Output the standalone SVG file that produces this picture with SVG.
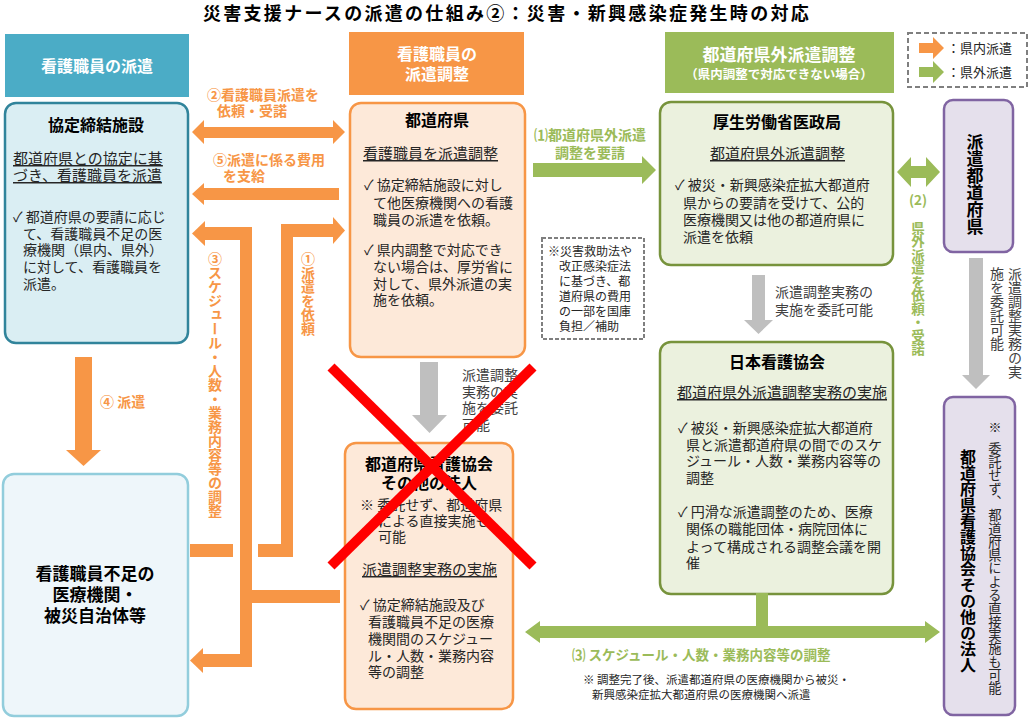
<svg xmlns="http://www.w3.org/2000/svg" width="1029" height="718" viewBox="0 0 1029 718">
<style>
text{font-family:"Noto Sans CJK JP","Noto Sans CJK SC",sans-serif;fill:#262626}
.b{font-weight:bold}
.t14{font-size:14px}
.t16{font-size:16px;font-weight:bold;fill:#000}
.hw{fill:#fff;font-weight:bold}
.ul{text-decoration:underline;font-size:15px}
.or{fill:#F79646;font-weight:bold}
.gr{fill:#9BBB59;font-weight:bold}
.gy{fill:#404040}
.v{writing-mode:vertical-rl}
.mid{text-anchor:middle}
</style>
<text x="507" y="20" class="mid b" style="font-size:18px;letter-spacing:2.3px;fill:#000">災害支援ナースの派遣の仕組み②：災害・新興感染症発生時の対応</text>

<!-- headers -->
<g id="hdr-left"><rect x="5" y="34" width="184" height="63" fill="#4BACC6"/><text x="97" y="72" class="mid hw" style="font-size:16px">看護職員の派遣</text></g>
<g id="hdr-mid"><rect x="349" y="32" width="175" height="63" fill="#F79646"/><text x="437" y="60" class="mid hw" style="font-size:16px">看護職員の</text><text x="437" y="80" class="mid hw" style="font-size:16px">派遣調整</text></g>
<g id="hdr-right"><rect x="665" y="32" width="229" height="61" fill="#9BBB59"/><text x="779" y="61" class="mid hw" style="font-size:17px">都道府県外派遣調整</text><text x="779" y="79" class="mid hw" style="font-size:12.5px">（県内調整で対応できない場合）</text></g>

<!-- legend -->
<g id="legend">
<rect x="908" y="33" width="119" height="54" fill="none" stroke="#7F7F7F" stroke-width="2" stroke-dasharray="5,3"/>
<polygon points="919,43 933,43 933,37 944,48 933,59 933,53 919,53" fill="#F79646"/>
<polygon points="919,67 933,67 933,61 944,72 933,83 933,77 919,77" fill="#9BBB59"/>
<text x="947" y="53" style="font-size:13px">：県内派遣</text>
<text x="947" y="77" style="font-size:13px">：県外派遣</text>
</g>

<!-- left box -->
<g id="kyotei">
<rect x="5" y="103" width="183" height="240" rx="11" fill="#DAEEF3" stroke="#31849B" stroke-width="2.5"/>
<text x="96" y="131" class="mid t16">協定締結施設</text>
<text x="13" y="164" class="ul">都道府県との協定に基</text>
<text x="13" y="181" class="ul">づき、看護職員を派遣</text>
<text x="13" y="222" class="t14">✓ 都道府県の要請に応じ</text>
<text x="23" y="239" class="t14">て、看護職員不足の医</text>
<text x="23" y="255" class="t14">療機関（県内、県外）</text>
<text x="23" y="272" class="t14">に対して、看護職員を</text>
<text x="23" y="289" class="t14">派遣。</text>
</g>

<g id="iryo">
<rect x="3" y="474" width="185" height="242" rx="11" fill="#EEF6FA" stroke="#92CDDC" stroke-width="2.5"/>
<text x="95" y="580" class="mid b" style="font-size:17px;fill:#000">看護職員不足の</text>
<text x="95" y="601" class="mid b" style="font-size:17px;fill:#000">医療機関・</text>
<text x="95" y="622" class="mid b" style="font-size:17px;fill:#000">被災自治体等</text>
</g>

<!-- middle box -->
<g id="todofuken">
<rect x="350" y="103" width="175" height="254" rx="11" fill="#FDE9D9" stroke="#F79646" stroke-width="2.5"/>
<text x="437" y="126" class="mid t16">都道府県</text>
<text x="363" y="159" class="ul">看護職員を派遣調整</text>
<text x="364" y="190" class="t14">✓ 協定締結施設に対し</text>
<text x="373" y="208" class="t14">て他医療機関への看護</text>
<text x="373" y="225" class="t14">職員の派遣を依頼。</text>
<text x="364" y="255" class="t14">✓ 県内調整で対応でき</text>
<text x="373" y="272" class="t14">ない場合は、厚労省に</text>
<text x="373" y="289" class="t14">対して、県外派遣の実</text>
<text x="373" y="305" class="t14">施を依頼。</text>
</g>

<g id="note">
<rect x="542" y="238" width="102" height="101" fill="none" stroke="#7F7F7F" stroke-width="2" stroke-dasharray="4,2"/>
<text x="548" y="256" style="font-size:12px">※災害救助法や</text>
<text x="559" y="271" style="font-size:12px">改正感染症法</text>
<text x="559" y="286" style="font-size:12px">に基づき、都</text>
<text x="559" y="301" style="font-size:12px">道府県の費用</text>
<text x="559" y="316" style="font-size:12px">の一部を国庫</text>
<text x="559" y="331" style="font-size:12px">負担／補助</text>
</g>

<g id="kyokai">
<rect x="345" y="443" width="168" height="266" rx="11" fill="#FDE9D9" stroke="#F79646" stroke-width="2.5"/>
<text x="429" y="470" class="mid t16">都道府県看護協会</text>
<text x="429" y="489" class="mid t16">その他の法人</text>
<text x="360" y="510" class="t14">※ 委託せず、都道府県</text>
<text x="378" y="526" class="t14">による直接実施も</text>
<text x="378" y="542" class="t14">可能</text>
<text x="362" y="575" class="ul">派遣調整実務の実施</text>
<text x="360" y="610" class="t14">✓ 協定締結施設及び</text>
<text x="368" y="627" class="t14">看護職員不足の医療</text>
<text x="368" y="644" class="t14">機関間のスケジュー</text>
<text x="368" y="661" class="t14">ル・人数・業務内容</text>
<text x="368" y="677" class="t14">等の調整</text>
</g>

<!-- right green boxes -->
<g id="mhlw">
<rect x="660" y="102" width="233" height="163" rx="11" fill="#EBF1DE" stroke="#77933C" stroke-width="2.5"/>
<text x="777" y="128" class="mid t16">厚生労働省医政局</text>
<text x="710" y="159" class="ul">都道府県外派遣調整</text>
<text x="675" y="190" class="t14">✓ 被災・新興感染症拡大都道府</text>
<text x="683" y="208" class="t14">県からの要請を受けて、公的</text>
<text x="683" y="225" class="t14">医療機関又は他の都道府県に</text>
<text x="683" y="242" class="t14">派遣を依頼</text>
</g>

<g id="jna">
<rect x="660" y="342" width="233" height="252" rx="11" fill="#EBF1DE" stroke="#77933C" stroke-width="2.5"/>
<text x="777" y="368" class="mid t16">日本看護協会</text>
<text x="677" y="398" class="ul">都道府県外派遣調整実務の実施</text>
<text x="678" y="433" class="t14">✓ 被災・新興感染症拡大都道府</text>
<text x="686" y="450" class="t14">県と派遣都道府県の間でのスケ</text>
<text x="686" y="466" class="t14">ジュール・人数・業務内容等の</text>
<text x="686" y="483" class="t14">調整</text>
<text x="678" y="517" class="t14">✓ 円滑な派遣調整のため、医療</text>
<text x="686" y="534" class="t14">関係の職能団体・病院団体に</text>
<text x="686" y="552" class="t14">よって構成される調整会議を開</text>
<text x="686" y="568" class="t14">催</text>
</g>

<!-- purple boxes -->
<g id="haken-pref">
<rect x="944" y="100" width="69" height="152" rx="9" fill="#E5E0EC" stroke="#8064A2" stroke-width="2.5"/>
<text x="975" y="133" class="v b" style="font-size:17px;fill:#000">派遣都道府県</text>
</g>
<g id="pref-kyokai">
<rect x="944" y="397" width="71" height="318" rx="9" fill="#E5E0EC" stroke="#8064A2" stroke-width="2.5"/>
<text x="968" y="449" class="v b" style="font-size:16px;fill:#000">都道府県看護協会その他の法人</text>
<text x="995" y="432" class="mid" style="font-size:13px">※</text>
<text x="995" y="442" class="v" style="font-size:13.3px">委託せず、都道府県による直接実施も可能</text>
</g>

<!-- connectors -->
<g id="connectors">
<polygon points="192,132 204,120 204,127 333,127 333,120 345,132 333,144 333,138 204,138 204,144" fill="#F79646"/>
<polygon points="192,194 204,183 204,188 339,188 339,200 204,200 204,205" fill="#F79646"/>
<g fill="#F79646">
<rect x="240" y="227" width="12" height="440"/>
<rect x="203" y="227" width="49" height="13"/>
<polygon points="192,233.5 205,221 205,246"/>
<rect x="201" y="654" width="51" height="13"/>
<polygon points="190,660.5 203,648 203,673"/>
<rect x="252" y="590" width="88" height="13"/>
</g>
<g fill="#F79646">
<rect x="190" y="544" width="43" height="13"/>
<rect x="258" y="544" width="35" height="13"/>
<rect x="281" y="224" width="12" height="333"/>
<rect x="281" y="224" width="53" height="13"/>
<polygon points="333,217 345,230.5 333,244"/>
</g>
<polygon points="75,357 92,357 92,450 101,450 83.5,466 66,450 75,450" fill="#F79646"/>
<polygon points="420,362 438,362 438,415 447,415 429.5,433 412,415 420,415" fill="#BFBFBF"/>
<polygon points="752,275 765,275 765,320 773,320 758.5,334 744,320 752,320" fill="#BFBFBF"/>
<polygon points="969,258 983,258 983,375 990,375 976,389 962,375 969,375" fill="#BFBFBF"/>
<polygon points="533,163 642,163 642,156 656,170 642,184 642,177 533,177" fill="#9BBB59"/>
<polygon points="897,172 911,157 911,166 926,166 926,157 940,172 926,187 926,178 911,178 911,187" fill="#9BBB59"/>
<polygon points="525,632 540,621 540,626 925,626 925,621 940,632 925,643 925,638 540,638 540,643" fill="#9BBB59"/>
<rect x="756" y="593" width="12" height="34" fill="#9BBB59"/>
</g>

<!-- labels -->
<g id="labels">
<text x="207" y="100" class="or t14">②看護職員派遣を</text>
<text x="217" y="116" class="or t14">依頼・受諾</text>
<text x="213" y="165" class="or t14">⑤派遣に係る費用</text>
<text x="223" y="181" class="or t14">を支給</text>
<text x="215" y="252" class="v or t14">③スケジュール・人数・業務内容等の調整</text>
<text x="308" y="252" class="v or t14">①派遣を依頼</text>
<text x="100" y="407" class="or t14">④ 派遣</text>
<text x="590" y="140" class="mid gr t14">⑴都道府県外派遣</text>
<text x="590" y="158" class="mid gr t14">調整を要請</text>
<text x="918" y="205" class="mid gr" style="font-size:13.5px">(2)</text>
<text x="918" y="221" class="v gr" style="font-size:13.5px">県外派遣を依頼・受諾</text>
<text x="462" y="380" class="t14 gy">派遣調整</text>
<text x="462" y="397" class="t14 gy">実務の実</text>
<text x="462" y="413" class="t14 gy">施を委託</text>
<text x="462" y="430" class="t14 gy">可能</text>
<text x="775" y="297" class="t14 gy">派遣調整実務の</text>
<text x="775" y="315" class="t14 gy">実施を委託可能</text>
<text x="1015" y="267" class="v t14 gy">派遣調整実務の実</text>
<text x="997" y="267" class="v t14 gy">施を委託可能</text>
<text x="572" y="660" class="gr" style="font-size:13.5px">⑶ スケジュール・人数・業務内容等の調整</text>
<text x="583" y="684" style="font-size:11.5px">※ 調整完了後、派遣都道府県の医療機関から被災・</text>
<text x="592" y="699" style="font-size:11.5px">新興感染症拡大都道府県の医療機関へ派遣</text>
</g>

<!-- red X -->
<g id="cross" stroke="#FF0000" stroke-width="10">
<line x1="331" y1="367" x2="533" y2="566"/>
<line x1="533" y1="367" x2="331" y2="566"/>
</g>
</svg>
